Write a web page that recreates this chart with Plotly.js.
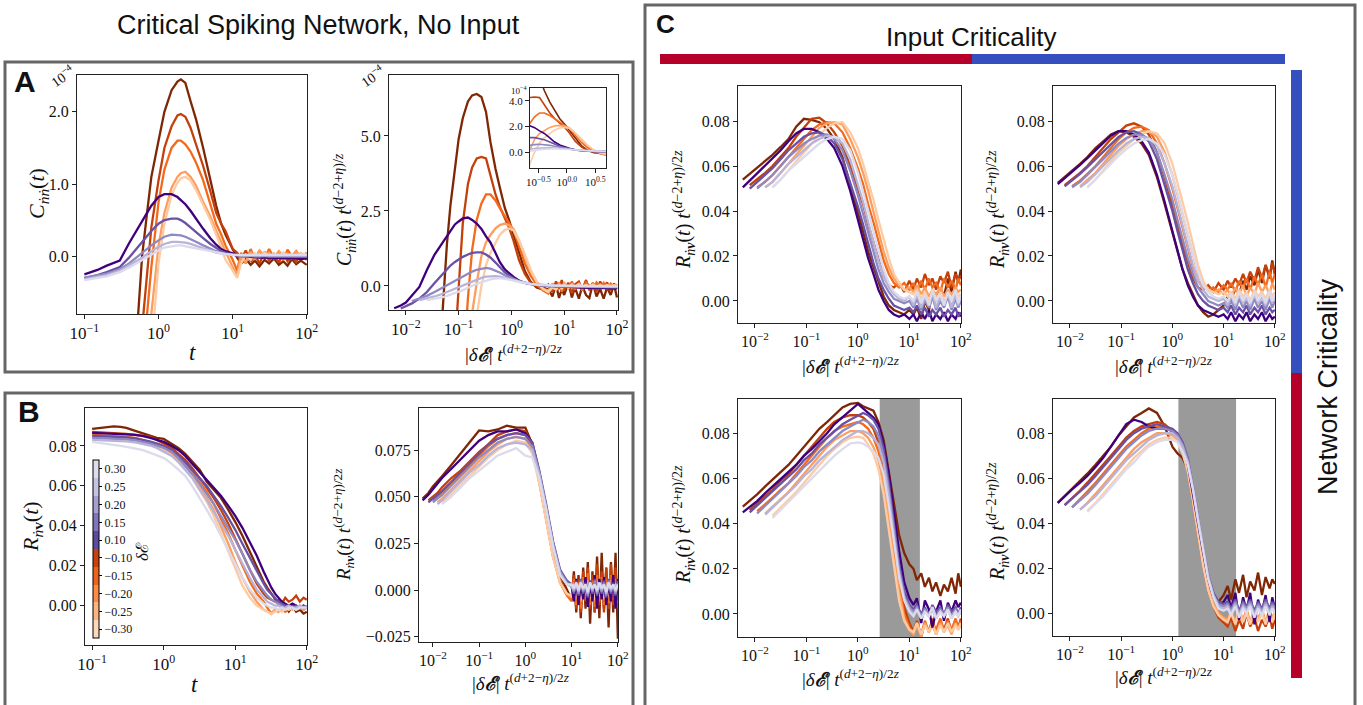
<!DOCTYPE html>
<html><head><meta charset="utf-8">
<script src="https://cdn.plot.ly/plotly-3.0.1.min.js"></script>
<style>html,body{margin:0;padding:0;background:#fff}#chart{width:1363px;height:705px}</style>
</head><body><div id="chart"></div>
<script>
// ---------------- DATA ----------------
// series order everywhere: dE = -0.10, -0.15, -0.20, -0.25, -0.30, +0.10, +0.15, +0.20, +0.25, +0.30
const seriesLabels = ['−0.10','−0.15','−0.20','−0.25','−0.30','0.10','0.15','0.20','0.25','0.30'];

// Panel A left: C(t), units of 1e-4
const tA = [0.1,0.15,0.2,0.3,0.4,0.5,0.6,0.7,0.8,1.0,1.2,1.5,1.8,2.0,2.3,2.7,3.2,4,5,6,7,8,10,11.5,13,15,17.5,20,23,27,31,36,42,48,55,63,72,83,100];
const AL_o10 = [-9,-8,-7,-5,-3.5,-1.2,0.0,0.6,1.1,1.6, 2.0,2.3,2.42,2.45,2.4,2.15,1.9,1.5,1.05,0.7, 0.45,0.3,0.1, -0.02,-0.1,-0.04,-0.12,-0.06,-0.14,-0.05,-0.1,-0.03,-0.12, -0.07,-0.13,-0.04,-0.11,-0.06,-0.12];
const AL_o15 = [-9,-8,-7,-6,-4.5,-3,-1.0,-0.2,0.4,1.05, 1.5,1.8,1.95,1.97,1.93,1.78,1.55,1.25,0.9,0.6, 0.45,0.35,0.1, 0.05,-0.05,0.08,-0.08,0.02,-0.1,0.06,-0.06,0.03,-0.09, 0.05,-0.07,0.0,-0.08,0.04,-0.05];
const AL_o20 = [-9,-8,-7,-6,-5,-4,-2.5,-0.8,-0.15,0.75, 1.2,1.5,1.6,1.6,1.55,1.45,1.3,1.05,0.7,0.45, 0.3,0.15,-0.05, -0.2,0.05,-0.1,0.1,-0.05,0.08,-0.03,0.1,-0.02,0.06, -0.06,0.09,0.0,0.07,-0.03,0.05];
const AL_o25 = [-9,-8,-7,-6,-5.5,-5,-3.5,-2,-0.8,0.15, 0.6,0.95,1.1,1.15,1.17,1.1,0.98,0.75,0.55,0.35, 0.2,0.05,-0.15, -0.25,0.0,-0.08,0.06,-0.04,0.08,0.0,0.05,-0.02,0.07, 0.0,0.04,-0.03,0.06,0.01,0.04];
const AL_o30 = [-9,-8,-7,-6.5,-6,-6,-4.5,-3,-1.3,-0.1, 0.45,0.85,1.02,1.08,1.1,1.05,0.92,0.72,0.5,0.3, 0.12,-0.05,-0.2, -0.3,-0.1,0.02,-0.05,0.04,-0.02,0.05,0.0,0.03,-0.02, 0.05,0.01,0.03,-0.01,0.04,0.02];
const AL_p10 = [-0.25,-0.19,-0.13,-0.06,0.18,0.34,0.48,0.6,0.7,0.82, 0.86,0.86,0.82,0.78,0.72,0.63,0.52,0.38,0.25,0.16, 0.1,0.07,0.04, 0.02,0.01,0.0,-0.01,-0.01,-0.02,-0.02,-0.02,-0.03,-0.02, -0.03,-0.03,-0.03,-0.03,-0.04,-0.03];
const AL_p15 = [-0.3,-0.26,-0.22,-0.15,-0.02,0.1,0.2,0.28,0.35,0.45, 0.5,0.52,0.52,0.5,0.46,0.4,0.33,0.25,0.17,0.11, 0.07,0.05,0.02, 0.01,0.0,0.0,-0.01,0.0,-0.01,-0.01,0.0,-0.01,-0.01, 0.0,-0.01,-0.01,0.0,-0.01,-0.01];
const AL_p20 = [-0.3,-0.27,-0.24,-0.18,-0.1,-0.02,0.05,0.1,0.15,0.22, 0.27,0.3,0.3,0.29,0.27,0.24,0.2,0.15,0.1,0.07, 0.05,0.03,0.02, 0.01,0.01,0.0,0.01,0.0,0.0,0.01,0.0,0.0,0.01, 0.0,0.0,0.01,0.0,0.0,0.0];
const AL_p25 = [-0.32,-0.29,-0.26,-0.2,-0.13,-0.07,-0.02,0.03,0.07,0.13, 0.17,0.2,0.2,0.2,0.19,0.17,0.14,0.11,0.08,0.05, 0.04,0.03,0.02, 0.02,0.01,0.01,0.01,0.02,0.01,0.01,0.02,0.01,0.01, 0.02,0.01,0.01,0.02,0.01,0.01];
const AL_p30 = [-0.33,-0.3,-0.28,-0.22,-0.16,-0.1,-0.05,-0.01,0.03,0.08, 0.12,0.14,0.15,0.15,0.14,0.13,0.11,0.09,0.07,0.05, 0.04,0.03,0.02, 0.02,0.02,0.02,0.02,0.02,0.02,0.02,0.02,0.02,0.02, 0.02,0.02,0.02,0.02,0.02,0.02];

// Panel A right (and inset): scaled C, units of 1e-4
const gAR = [0.006,0.008,0.01,0.013,0.018,0.025,0.035,0.05,0.06,0.07, 0.085,0.1,0.12,0.15,0.18,0.22,0.27,0.33,0.4,0.5, 0.6,0.75,0.9,1.1,1.4,1.8,2.3,3,4, 5,6,7,8,9,10,12,14,16,19, 22,26,30,35,41,48,56,65,76,88, 100];
const AR_o10 = [null,null,null,null,null,null,-5,-0.6,1.4,2.7, 3.9,4.9,5.6,6.15,6.35,6.4,6.3,5.8,4.8,3.9, 3.3,2.6,2.2,1.7,1.1,0.5,0.15,-0.05,-0.12, -0.1,-0.35,0.05,-0.4,-0.1,-0.3,0.1,-0.38,-0.05,-0.42, 0.0,-0.3,-0.4,0.1,-0.35,-0.1,-0.42,-0.05,-0.3,0.05, -0.38];
const AR_o15 = [null,null,null,null,null,null,null,null,null,null, -2,0.1,2.1,3.4,3.95,4.25,4.3,4.25,3.7,3.05, 2.65,2.25,1.95,1.5,0.85,0.4,0.12,0.0,-0.08, 0.05,-0.2,0.15,-0.1,0.2,-0.15,0.1,-0.25,0.05,0.15, -0.12,0.2,-0.15,0.1,-0.2,0.15,-0.08,0.12,-0.15,0.08, -0.1];
const AR_o20 = [null,null,null,null,null,null,null,null,null,null, null,null,-3,-0.4,1.2,2.2,2.75,3.05,3.05,2.85, 2.6,2.3,2.1,1.85,1.3,0.75,0.35,0.05,-0.15, -0.25,0.08,-0.15,0.12,-0.2,0.1,-0.05,0.15,-0.12,0.05, -0.15,0.12,0.0,-0.1,0.12,-0.06,0.1,-0.12,0.08,-0.05, 0.06];
const AR_o25 = [null,null,null,null,null,null,null,null,null,null, null,null,null,-3,-0.9,0.1,1.0,1.45,1.7,1.92, 2.03,2.08,2.02,1.9,1.5,1.0,0.5,0.15,-0.1, -0.15,0.05,-0.1,0.08,-0.05,0.1,-0.08,0.06,-0.02,0.08, -0.06,0.04,-0.03,0.06,-0.04,0.05,-0.02,0.04,-0.03,0.03, 0.0];
const AR_o30 = [null,null,null,null,null,null,null,null,null,null, null,null,null,null,-3,-1.0,0.0,0.7,1.1,1.45, 1.7,1.87,1.92,1.85,1.5,1.05,0.55,0.15,-0.1, -0.2,-0.05,-0.12,0.02,-0.08,0.04,-0.05,0.03,-0.04,0.05, -0.02,0.03,-0.03,0.04,-0.01,0.02,-0.02,0.03,0.0,0.02, 0.01];
const AR_p10 = [-0.74,-0.65,-0.55,-0.33,-0.03,0.53,1.05,1.45,1.65,1.85, 2.05,2.15,2.25,2.28,2.2,2.08,1.9,1.65,1.45,1.1, 0.8,0.55,0.42,0.3,0.18,0.1,0.07,0.04,0.02, 0.0,0.0,-0.01,-0.02,-0.02,-0.03,-0.03,-0.04,-0.04,-0.05, -0.05,-0.06,-0.06,-0.06,-0.07,-0.07,-0.07,-0.08,-0.08,-0.08, -0.08];
const AR_p15 = [null,-0.75,-0.68,-0.58,-0.42,-0.2,0.1,0.4,0.55,0.68, 0.8,0.88,0.97,1.05,1.1,1.12,1.12,1.05,0.95,0.78, 0.62,0.45,0.35,0.25,0.16,0.1,0.06,0.04,0.02, 0.01,0.0,0.0,-0.01,-0.01,-0.02,-0.02,-0.02,-0.03,-0.03, -0.03,-0.03,-0.04,-0.04,-0.04,-0.04,-0.04,-0.05,-0.05,-0.05, -0.05];
const AR_p20 = [null,null,null,-0.5,-0.42,-0.33,-0.2,-0.05,0.03,0.1, 0.17,0.23,0.3,0.4,0.48,0.54,0.58,0.6,0.58,0.52, 0.45,0.36,0.3,0.22,0.15,0.1,0.07,0.04,0.02, 0.01,0.01,0.0,0.0,0.0,-0.01,-0.01,-0.01,-0.01,-0.02, -0.02,-0.02,-0.02,-0.02,-0.02,-0.03,-0.03,-0.03,-0.03,-0.03, -0.03];
const AR_p25 = [null,null,null,null,-0.47,-0.42,-0.35,-0.26,-0.2,-0.15, -0.09,-0.04,0.02,0.1,0.16,0.22,0.27,0.31,0.33,0.33, 0.31,0.27,0.24,0.19,0.14,0.1,0.07,0.05,0.03, 0.02,0.01,0.01,0.0,0.0,0.0,-0.01,0.0,-0.01,-0.01, -0.01,-0.01,-0.02,-0.01,-0.02,-0.02,-0.02,-0.02,-0.02,-0.02, -0.02];
const AR_p30 = [null,null,null,null,null,-0.47,-0.43,-0.37,-0.33,-0.29, -0.24,-0.2,-0.14,-0.06,0.01,0.07,0.13,0.18,0.22,0.25, 0.26,0.24,0.22,0.18,0.14,0.1,0.07,0.05,0.03, 0.02,0.02,0.01,0.01,0.01,0.0,0.0,0.0,0.0,-0.01, 0.0,-0.01,-0.01,-0.01,-0.01,-0.01,-0.01,-0.01,-0.01,-0.01, -0.01];

// Panel B left: R(t)
const tB = [0.1,0.13,0.17,0.2,0.25,0.3,0.4,0.5,0.65,0.8, 1.0,1.3,1.6,2.0,2.5,3.2,4,5,6.3,8, 10,12.6,16,20,25,28,32,36,40,45, 50,56,63,71,80,90,100];
const BL_o10 = [0.0885,0.089,0.0895,0.0898,0.0895,0.089,0.0875,0.0865,0.085,0.084, 0.0835,0.081,0.079,0.076,0.072,0.068,0.062,0.058,0.054,0.048, 0.042,0.035,0.027,0.019,0.012,0.009,0.006,0.003,0.001,0.002, -0.001,-0.003,0.0,-0.003,-0.002,-0.004,-0.003];
const BL_o15 = [0.087,0.0868,0.0866,0.0865,0.0862,0.086,0.0855,0.085,0.0845,0.083, 0.081,0.079,0.076,0.073,0.069,0.064,0.059,0.054,0.048,0.041, 0.034,0.026,0.018,0.011,0.006,0.004,0.003,0.002,0.003,0.001, 0.004,0.002,0.003,0.005,0.002,0.004,0.003];
const BL_o20 = [0.0855,0.0853,0.0851,0.085,0.0848,0.0845,0.084,0.0832,0.0822,0.0812, 0.08,0.077,0.074,0.071,0.067,0.062,0.057,0.051,0.044,0.036, 0.028,0.02,0.012,0.006,0.002,-0.001,-0.004,-0.002,-0.003,-0.001, -0.003,-0.002,0.0,-0.002,-0.001,-0.002,0.0];
const BL_o25 = [0.0845,0.0843,0.0841,0.084,0.0838,0.0835,0.083,0.0822,0.0812,0.0802, 0.079,0.076,0.073,0.07,0.066,0.06,0.054,0.048,0.04,0.031, 0.022,0.014,0.007,0.002,-0.002,-0.003,-0.004,-0.002,-0.003,-0.001, -0.002,-0.001,-0.002,0.0,-0.001,-0.002,-0.001];
const BL_o30 = [0.084,0.0838,0.0836,0.0835,0.0832,0.083,0.0825,0.0817,0.0807,0.0797, 0.078,0.075,0.072,0.069,0.064,0.058,0.052,0.045,0.036,0.027, 0.018,0.01,0.004,0.0,-0.002,-0.003,-0.004,-0.003,-0.002,-0.003, -0.001,-0.002,-0.001,-0.002,-0.001,0.0,-0.001];
const BL_p10 = [0.0865,0.0864,0.0863,0.0862,0.086,0.0858,0.0855,0.085,0.084,0.083, 0.082,0.08,0.078,0.075,0.071,0.067,0.063,0.059,0.055,0.05, 0.045,0.039,0.032,0.025,0.017,0.013,0.009,0.006,0.004,0.002, 0.001,0.0,0.001,0.0,-0.001,0.0,-0.001];
const BL_p15 = [0.085,0.0849,0.0848,0.0847,0.0845,0.0843,0.0838,0.0832,0.0822,0.0812, 0.08,0.078,0.075,0.072,0.068,0.064,0.06,0.055,0.05,0.044, 0.038,0.031,0.024,0.017,0.011,0.008,0.006,0.004,0.002,0.001, 0.0,0.0,-0.001,0.0,-0.001,0.0,-0.001];
const BL_p20 = [0.084,0.0839,0.0838,0.0837,0.0835,0.0833,0.0828,0.0822,0.0812,0.0802, 0.079,0.077,0.074,0.07,0.066,0.061,0.056,0.051,0.045,0.039, 0.033,0.026,0.018,0.012,0.007,0.005,0.003,0.002,0.001,0.0, -0.001,0.0,-0.001,-0.001,0.0,-0.001,0.0];
const BL_p25 = [0.083,0.0829,0.0828,0.0827,0.0825,0.0823,0.0818,0.0812,0.0802,0.079, 0.077,0.075,0.072,0.068,0.064,0.058,0.053,0.047,0.041,0.035, 0.028,0.021,0.014,0.008,0.004,0.002,0.001,0.0,0.0,-0.001, -0.001,0.0,-0.001,-0.001,0.0,-0.001,-0.001];
const BL_p30 = [0.082,0.0815,0.081,0.0805,0.08,0.0795,0.0788,0.078,0.0765,0.0752, 0.074,0.071,0.068,0.065,0.06,0.054,0.048,0.042,0.035,0.028, 0.021,0.014,0.008,0.004,0.001,0.0,-0.001,-0.001,-0.002,-0.001, -0.002,-0.001,-0.001,-0.002,-0.001,-0.001,-0.001];

// Panel B right: scaled R
const gBR = [0.006,0.008,0.01,0.0126,0.0158,0.0251,0.0398,0.0631,0.1,0.158, 0.251,0.398,0.631,1.0,1.41,2.0,2.82,3.98,5.62,7.94, 10,11.2,12.6,14.1,15.8,17.8,20,22.4,25.1,28.2, 31.6,35.5,39.8,44.7,50.1,56.2,63.1,70.8,79.4,89.1, 100];
const BR_o10 = [0.049,0.052,0.0555,0.058,0.061,0.067,0.073,0.079,0.0855,0.085, 0.086,0.088,0.087,0.087,0.078,0.06,0.042,0.022,0.008,0.0, -0.005,0.01,-0.012,0.008,-0.015,0.012,-0.01,0.015,-0.018,0.01, -0.012,0.018,-0.015,0.02,-0.01,0.012,-0.02,0.015,-0.012,0.02, -0.026];
const BR_o15 = [null,0.048,0.05,0.052,0.055,0.06,0.064,0.069,0.074,0.078, 0.083,0.085,0.086,0.085,0.077,0.058,0.038,0.018,0.005,-0.002, -0.004,0.008,-0.01,0.006,-0.012,0.01,-0.006,0.012,-0.01,0.008, -0.012,0.014,-0.008,0.01,-0.012,0.012,-0.01,0.014,-0.008,0.012, -0.01];
const BR_o20 = [null,null,0.048,0.05,0.052,0.057,0.062,0.067,0.072,0.077, 0.081,0.083,0.084,0.083,0.076,0.058,0.038,0.018,0.004,-0.003, -0.006,0.006,-0.008,0.004,-0.01,0.007,-0.005,0.009,-0.008,0.005, -0.009,0.008,-0.006,0.007,-0.008,0.006,-0.007,0.008,-0.005,0.006, -0.007];
const BR_o25 = [null,null,null,0.047,0.049,0.054,0.059,0.064,0.069,0.074, 0.078,0.081,0.082,0.081,0.075,0.058,0.038,0.018,0.004,-0.002, -0.004,0.004,-0.005,0.003,-0.006,0.005,-0.003,0.005,-0.005,0.003, -0.006,0.005,-0.004,0.004,-0.005,0.004,-0.004,0.005,-0.003,0.004, -0.004];
const BR_o30 = [null,null,null,null,0.047,0.051,0.056,0.061,0.066,0.071, 0.075,0.078,0.08,0.079,0.073,0.057,0.037,0.017,0.004,-0.002, -0.003,0.003,-0.004,0.002,-0.005,0.004,-0.002,0.004,-0.004,0.002, -0.005,0.004,-0.003,0.003,-0.004,0.003,-0.003,0.004,-0.002,0.003, -0.003];
const BR_p10 = [0.048,0.051,0.054,0.057,0.06,0.065,0.07,0.075,0.08,0.083, 0.085,0.085,0.086,0.084,0.079,0.063,0.045,0.025,0.01,0.004, 0.002,-0.006,0.006,-0.008,0.004,-0.005,0.007,-0.009,0.005,-0.006, 0.008,-0.01,0.006,-0.005,0.007,-0.008,0.005,-0.006,0.008,-0.01, 0.006];
const BR_p15 = [null,0.047,0.049,0.051,0.053,0.058,0.063,0.068,0.073,0.078, 0.081,0.083,0.084,0.083,0.079,0.064,0.046,0.026,0.011,0.005, 0.003,-0.002,0.005,-0.003,0.006,-0.002,0.004,-0.004,0.005,-0.002, 0.006,-0.003,0.004,-0.002,0.005,-0.004,0.006,-0.002,0.004,-0.003, 0.005];
const BR_p20 = [null,null,0.047,0.049,0.051,0.056,0.061,0.066,0.071,0.075, 0.079,0.081,0.082,0.081,0.077,0.063,0.045,0.025,0.01,0.004, 0.002,-0.001,0.004,-0.002,0.005,-0.001,0.003,-0.003,0.004,-0.001, 0.005,-0.002,0.003,-0.001,0.004,-0.003,0.005,-0.001,0.003,-0.002, 0.004];
const BR_p25 = [null,null,null,0.046,0.048,0.053,0.058,0.063,0.067,0.072, 0.076,0.078,0.079,0.078,0.075,0.062,0.044,0.024,0.009,0.003, 0.002,0.0,0.003,-0.001,0.004,0.0,0.003,-0.002,0.004,0.0, 0.003,-0.001,0.004,0.0,0.003,-0.002,0.004,0.0,0.003,-0.001, 0.003];
const BR_p30 = [null,null,null,null,0.046,0.05,0.055,0.06,0.064,0.068, 0.072,0.074,0.076,0.072,0.071,0.06,0.043,0.023,0.008,0.003, 0.003,0.001,0.004,0.0,0.004,0.001,0.003,-0.001,0.004,0.001, 0.003,0.0,0.004,0.001,0.003,-0.001,0.004,0.001,0.003,0.0, 0.003];

// Panel C: shared x grid
const gC = [0.0058,0.0079,0.011,0.0158,0.0219,0.0316,0.0447,0.0631,0.0891,0.126, 0.178,0.251,0.347,0.501,0.708,1.0,1.26,1.58,2.0,2.51, 3.16,3.98,5.01,6.31,7.94,10, 12,14,17,20,24,28,33,40,47,56, 66,79,89,100];
// C top-left
const CTL_o10 = [0.054,0.0565,0.059,0.062,0.065,0.0685,0.072,0.0775,0.081,0.0805, 0.0795,0.0765,0.072,0.064,0.052,0.039,0.031,0.022,0.015,0.008, 0.002,-0.002,-0.004,-0.005,-0.006,-0.004, -0.006,-0.003,-0.008,0.0,-0.004,0.004,0.0,0.006,0.002,0.01, 0.004,0.013,0.008,0.014];
const CTL_o15 = [null,0.0515,0.054,0.057,0.06,0.064,0.068,0.073,0.077,0.081, 0.0815,0.079,0.075,0.069,0.06,0.05,0.043,0.034,0.026,0.018, 0.011,0.007,0.006,0.008,0.004,0.009, 0.005,0.01,0.006,0.012,0.007,0.01,0.005,0.011,0.008,0.013, 0.006,0.012,0.009,0.011];
const CTL_o20 = [null,null,0.0505,0.053,0.056,0.06,0.064,0.068,0.072,0.076, 0.0785,0.0795,0.079,0.075,0.068,0.059,0.052,0.043,0.035,0.026, 0.018,0.012,0.008,0.006,0.008,0.005, 0.008,0.004,0.009,0.005,0.01,0.006,0.008,0.004,0.01,0.006, 0.009,0.005,0.01,0.007];
const CTL_o25 = [null,null,null,0.0505,0.053,0.057,0.061,0.065,0.069,0.073, 0.077,0.079,0.0795,0.0785,0.072,0.064,0.057,0.049,0.04,0.031, 0.022,0.015,0.01,0.007,0.005,0.006, 0.004,0.007,0.003,0.006,0.002,0.005,0.003,0.006,0.002,0.005, 0.003,0.006,0.004,0.005];
const CTL_o30 = [null,null,null,null,0.0505,0.054,0.058,0.062,0.066,0.07, 0.074,0.077,0.079,0.0795,0.075,0.068,0.061,0.053,0.045,0.036, 0.027,0.019,0.012,0.008,0.005,0.004, 0.003,0.005,0.001,0.004,0.0,0.003,0.001,0.004,0.0,0.003, 0.001,0.004,0.002,0.003];
const CTL_p10 = [0.0505,0.0535,0.0565,0.06,0.063,0.067,0.071,0.0745,0.0765,0.0765, 0.075,0.072,0.068,0.06,0.049,0.036,0.028,0.019,0.012,0.005, 0.0,-0.004,-0.006,-0.007,-0.006,-0.008, -0.006,-0.009,-0.005,-0.008,-0.004,-0.009,-0.006,-0.008,-0.005,-0.009, -0.006,-0.008,-0.005,-0.007];
const CTL_p15 = [null,0.05,0.053,0.056,0.059,0.063,0.067,0.07,0.073,0.0745, 0.075,0.0735,0.07,0.063,0.053,0.042,0.034,0.025,0.017,0.01, 0.005,0.001,-0.002,-0.003,-0.004,-0.003, -0.005,-0.002,-0.006,-0.003,-0.007,-0.004,-0.006,-0.003,-0.007,-0.004, -0.006,-0.003,-0.007,-0.005];
const CTL_p20 = [null,null,0.05,0.053,0.056,0.06,0.064,0.067,0.07,0.072, 0.0735,0.074,0.072,0.067,0.058,0.047,0.039,0.03,0.022,0.014, 0.008,0.004,0.001,0.0,-0.001,0.0, -0.003,0.001,-0.004,0.0,-0.003,0.002,-0.004,0.0,-0.003,0.002, -0.004,0.001,-0.003,0.0];
const CTL_p25 = [null,null,null,0.0505,0.053,0.057,0.061,0.064,0.067,0.07, 0.072,0.0735,0.073,0.07,0.063,0.052,0.044,0.035,0.026,0.018, 0.011,0.006,0.003,0.001,0.0,0.002, -0.002,0.003,-0.003,0.002,-0.002,0.004,-0.003,0.002,-0.002,0.004, -0.003,0.003,-0.002,0.003];
const CTL_p30 = [null,null,null,null,0.0505,0.054,0.058,0.061,0.064,0.067, 0.07,0.072,0.073,0.072,0.067,0.057,0.049,0.04,0.031,0.022, 0.014,0.008,0.004,0.002,0.001,0.002, 0.0,0.004,-0.001,0.003,-0.002,0.005,0.0,0.003,-0.002,0.004, 0.0,0.005,-0.001,0.003];
// C top-right
const CTR_o10 = [0.0525,0.055,0.058,0.061,0.064,0.068,0.071,0.074,0.0755,0.075, 0.073,0.07,0.065,0.055,0.043,0.03,0.022,0.014,0.008,0.003, -0.002,-0.005,-0.007,-0.006,-0.004,-0.002, 0.002,0.0,0.006,0.003,0.009,0.005,0.011,0.007,0.014,0.008, 0.016,0.01,0.018,0.012];
const CTR_o15 = [null,0.0515,0.054,0.057,0.06,0.064,0.068,0.072,0.075,0.078, 0.079,0.0775,0.074,0.066,0.055,0.043,0.034,0.025,0.017,0.01, 0.006,0.005,0.007,0.004,0.008,0.005, 0.009,0.006,0.01,0.007,0.012,0.008,0.013,0.009,0.015,0.01, 0.016,0.011,0.017,0.012];
const CTR_o20 = [null,null,0.051,0.0535,0.0565,0.06,0.064,0.068,0.072,0.075, 0.077,0.0775,0.076,0.07,0.061,0.05,0.041,0.032,0.023,0.015, 0.009,0.006,0.005,0.006,0.004,0.007, 0.005,0.008,0.004,0.009,0.006,0.01,0.005,0.011,0.007,0.012, 0.006,0.013,0.008,0.012];
const CTR_o25 = [null,null,null,0.051,0.054,0.057,0.061,0.065,0.069,0.072, 0.074,0.0755,0.0755,0.073,0.066,0.056,0.047,0.038,0.029,0.02, 0.012,0.007,0.005,0.004,0.005,0.003, 0.005,0.002,0.006,0.003,0.007,0.002,0.006,0.003,0.008,0.004, 0.007,0.003,0.008,0.005];
const CTR_o30 = [null,null,null,null,0.0505,0.054,0.058,0.062,0.066,0.069, 0.072,0.074,0.0755,0.0745,0.07,0.061,0.053,0.044,0.035,0.025, 0.016,0.009,0.005,0.004,0.003,0.004, 0.002,0.004,0.001,0.005,0.002,0.004,0.0,0.005,0.002,0.004, 0.001,0.005,0.002,0.004];
const CTR_p10 = [0.052,0.0545,0.0575,0.0605,0.0635,0.067,0.0705,0.0735,0.0755,0.0755, 0.074,0.071,0.066,0.056,0.044,0.031,0.022,0.014,0.007,0.002, -0.002,-0.004,-0.005,-0.006,-0.007,-0.006, -0.008,-0.005,-0.009,-0.006,-0.008,-0.005,-0.009,-0.006,-0.008,-0.005, -0.009,-0.006,-0.008,-0.007];
const CTR_p15 = [null,0.051,0.0535,0.0565,0.0595,0.063,0.0665,0.07,0.073,0.075, 0.0755,0.074,0.071,0.063,0.052,0.04,0.031,0.022,0.014,0.008, 0.003,0.0,-0.002,-0.003,-0.004,-0.003, -0.005,-0.002,-0.006,-0.003,-0.005,-0.002,-0.006,-0.003,-0.005,-0.002, -0.006,-0.003,-0.005,-0.004];
const CTR_p20 = [null,null,0.0505,0.053,0.056,0.0595,0.063,0.0665,0.07,0.0725, 0.074,0.074,0.072,0.066,0.056,0.045,0.036,0.027,0.019,0.012, 0.006,0.003,0.0,-0.001,-0.002,-0.001, -0.003,0.0,-0.004,0.001,-0.003,0.0,-0.004,0.001,-0.003,0.0, -0.004,0.001,-0.003,0.0];
const CTR_p25 = [null,null,null,0.0505,0.053,0.0565,0.06,0.0635,0.067,0.07, 0.072,0.073,0.0725,0.069,0.061,0.051,0.042,0.033,0.024,0.016, 0.009,0.005,0.002,0.001,0.0,0.001, -0.002,0.002,-0.002,0.003,-0.001,0.002,-0.002,0.003,-0.001,0.002, -0.002,0.003,-0.001,0.002];
const CTR_p30 = [null,null,null,null,0.0505,0.054,0.0575,0.061,0.0645,0.0675, 0.07,0.0715,0.072,0.07,0.065,0.056,0.048,0.039,0.03,0.021, 0.013,0.007,0.004,0.002,0.001,0.002, 0.0,0.003,-0.001,0.004,0.0,0.003,-0.001,0.004,0.0,0.003, -0.001,0.004,0.0,0.003];
// C bottom-left
const CBL_o10 = [0.0475,0.05,0.053,0.0565,0.0595,0.063,0.066,0.07,0.074,0.078, 0.082,0.085,0.088,0.0915,0.093,0.0935,0.092,0.091,0.09,0.085, 0.077,0.063,0.048,0.035,0.027,0.022, 0.02,0.015,0.018,0.012,0.016,0.01,0.014,0.008,0.013,0.01, 0.016,0.009,0.018,0.012];
const CBL_o15 = [null,0.046,0.049,0.052,0.055,0.059,0.062,0.066,0.07,0.074, 0.078,0.082,0.085,0.087,0.088,0.088,0.087,0.085,0.082,0.076, 0.066,0.05,0.032,0.015,0.003,-0.004, -0.008,-0.003,-0.01,-0.004,-0.008,-0.002,-0.009,-0.003,-0.007,-0.002, -0.008,-0.003,-0.006,-0.002];
const CBL_o20 = [null,null,0.0455,0.0485,0.0515,0.055,0.058,0.062,0.066,0.07, 0.074,0.078,0.081,0.083,0.084,0.085,0.084,0.082,0.078,0.072, 0.062,0.046,0.028,0.012,0.0,-0.006, -0.008,-0.004,-0.009,-0.003,-0.008,-0.004,-0.007,-0.002,-0.008,-0.003, -0.007,-0.002,-0.006,-0.003];
const CBL_o25 = [null,null,null,0.0445,0.0475,0.051,0.054,0.058,0.062,0.066, 0.07,0.074,0.077,0.079,0.081,0.081,0.08,0.078,0.074,0.068, 0.058,0.042,0.024,0.01,-0.002,-0.007, -0.009,-0.005,-0.01,-0.004,-0.008,-0.005,-0.009,-0.004,-0.008,-0.005, -0.009,-0.004,-0.007,-0.005];
const CBL_o30 = [null,null,null,null,0.0435,0.047,0.0505,0.054,0.058,0.062, 0.066,0.07,0.073,0.076,0.078,0.0785,0.078,0.075,0.071,0.064, 0.053,0.037,0.02,0.006,-0.003,-0.007, -0.008,-0.004,-0.009,-0.005,-0.008,-0.004,-0.009,-0.005,-0.008,-0.004, -0.008,-0.005,-0.007,-0.004];
const CBL_p10 = [0.045,0.0475,0.05,0.0535,0.0565,0.06,0.063,0.066,0.07,0.073, 0.0765,0.08,0.084,0.087,0.09,0.093,0.091,0.089,0.087,0.084, 0.075,0.062,0.045,0.028,0.014,0.007, 0.004,0.007,-0.004,0.006,0.002,-0.006,0.001,0.006,-0.003,0.005, 0.001,0.006,0.003,0.005];
const CBL_p15 = [null,0.045,0.048,0.0515,0.0545,0.058,0.061,0.064,0.068,0.071, 0.075,0.078,0.081,0.084,0.086,0.088,0.089,0.088,0.086,0.082, 0.073,0.058,0.04,0.022,0.01,0.004, 0.002,0.004,0.0,0.003,-0.001,0.004,0.001,0.003,0.0,0.004, 0.001,0.003,0.0,0.003];
const CBL_p20 = [null,null,0.0445,0.048,0.051,0.0545,0.058,0.061,0.065,0.068, 0.072,0.075,0.078,0.081,0.083,0.085,0.086,0.085,0.083,0.079, 0.07,0.055,0.037,0.02,0.008,0.003, 0.001,0.003,-0.001,0.002,0.0,0.003,-0.001,0.002,0.0,0.003, -0.001,0.002,0.0,0.002];
const CBL_p25 = [null,null,null,0.044,0.047,0.0505,0.054,0.057,0.061,0.064, 0.068,0.071,0.074,0.077,0.079,0.081,0.081,0.08,0.078,0.075, 0.067,0.052,0.034,0.018,0.007,0.002, 0.0,0.002,-0.002,0.001,-0.001,0.002,-0.002,0.001,-0.001,0.002, -0.002,0.001,-0.001,0.001];
const CBL_p30 = [null,null,null,null,0.0425,0.046,0.0495,0.053,0.0565,0.06, 0.0635,0.067,0.07,0.073,0.0755,0.076,0.0755,0.074,0.072,0.069, 0.062,0.048,0.031,0.016,0.006,0.001, -0.001,0.002,-0.002,0.001,-0.001,0.003,-0.002,0.001,-0.001,0.002, -0.002,0.001,-0.001,0.002];
// C bottom-right
const CBR_o10 = [0.049,0.052,0.0555,0.059,0.062,0.066,0.07,0.074,0.079,0.083, 0.087,0.089,0.091,0.089,0.083,0.074,0.071,0.069,0.064,0.05, 0.036,0.024,0.014,0.007,0.005,0.008, 0.012,0.006,0.015,0.009,0.017,0.007,0.014,0.01,0.018,0.008, 0.016,0.011,0.015,0.013];
const CBR_o15 = [null,0.048,0.051,0.0545,0.058,0.062,0.066,0.07,0.074,0.078, 0.081,0.083,0.084,0.085,0.084,0.081,0.078,0.073,0.064,0.05, 0.035,0.021,0.01,0.003,-0.002,-0.004, -0.006,-0.002,-0.008,-0.003,-0.007,0.0,-0.006,-0.002,-0.008,-0.003, -0.006,-0.001,-0.007,-0.003];
const CBR_o20 = [null,null,0.047,0.0505,0.054,0.058,0.062,0.066,0.07,0.074, 0.077,0.08,0.082,0.083,0.083,0.081,0.078,0.073,0.064,0.051, 0.036,0.022,0.011,0.004,0.0,-0.002, -0.004,0.0,-0.005,0.001,-0.004,0.002,-0.005,0.0,-0.003,0.002, -0.005,0.001,-0.004,0.0];
const CBR_o25 = [null,null,null,0.046,0.049,0.053,0.057,0.061,0.065,0.069, 0.073,0.076,0.078,0.08,0.08,0.079,0.077,0.072,0.064,0.051, 0.036,0.022,0.011,0.004,0.0,-0.002, -0.003,0.001,-0.004,0.002,-0.003,0.001,-0.004,0.002,-0.003,0.001, -0.004,0.002,-0.003,0.001];
const CBR_o30 = [null,null,null,null,0.0455,0.049,0.053,0.057,0.061,0.065, 0.069,0.072,0.075,0.077,0.078,0.078,0.076,0.071,0.063,0.05, 0.035,0.021,0.01,0.003,-0.001,-0.003, -0.004,0.0,-0.005,0.001,-0.004,0.0,-0.005,0.001,-0.004,0.0, -0.005,0.001,-0.004,0.0];
const CBR_p10 = [0.049,0.052,0.055,0.058,0.061,0.065,0.069,0.074,0.079,0.084, 0.086,0.085,0.083,0.082,0.082,0.081,0.079,0.074,0.066,0.054, 0.04,0.027,0.015,0.007,0.004,0.005, 0.008,0.002,0.009,-0.003,0.007,0.001,0.009,-0.005,0.006,0.0, 0.008,-0.004,0.007,0.002];
const CBR_p15 = [null,0.048,0.051,0.054,0.057,0.061,0.065,0.069,0.073,0.077, 0.08,0.082,0.083,0.084,0.083,0.082,0.08,0.076,0.069,0.057, 0.043,0.029,0.017,0.009,0.005,0.004, 0.005,0.002,0.006,0.001,0.005,0.003,0.006,0.001,0.005,0.002, 0.006,0.002,0.005,0.003];
const CBR_p20 = [null,null,0.047,0.05,0.053,0.057,0.061,0.065,0.069,0.073, 0.076,0.079,0.081,0.082,0.082,0.081,0.079,0.075,0.068,0.057, 0.043,0.029,0.017,0.008,0.004,0.003, 0.004,0.001,0.005,0.0,0.004,0.002,0.005,0.0,0.004,0.001, 0.005,0.001,0.004,0.002];
const CBR_p25 = [null,null,null,0.046,0.049,0.052,0.056,0.06,0.064,0.068, 0.071,0.074,0.077,0.079,0.08,0.08,0.078,0.074,0.067,0.056, 0.042,0.028,0.016,0.008,0.003,0.002, 0.003,0.0,0.004,-0.001,0.003,0.001,0.004,-0.001,0.003,0.0, 0.004,0.0,0.003,0.001];
const CBR_p30 = [null,null,null,null,0.045,0.0485,0.052,0.056,0.06,0.064, 0.067,0.071,0.074,0.076,0.077,0.077,0.076,0.072,0.066,0.055, 0.041,0.027,0.015,0.007,0.002,0.001, 0.002,-0.001,0.003,-0.002,0.002,0.0,0.003,-0.002,0.002,-0.001, 0.003,-0.001,0.002,0.0];

// shaded windows (x-extent, data units)
const bandCBL = [2.65, 16];
const bandCBR = [1.31, 17.5];

// ticks
const ticksT = [0.1,1,10,100];
const labelsT = ['10<sup>−1</sup>','10<sup>0</sup>','10<sup>1</sup>','10<sup>2</sup>'];
const ticksS = [0.01,0.1,1,10,100];
const labelsS = ['10<sup>−2</sup>','10<sup>−1</sup>','10<sup>0</sup>','10<sup>1</sup>','10<sup>2</sup>'];
const ticksIn = [0.316,1,3.16];
const labelsIn = ['10<sup>−0.5</sup>','10<sup>0.0</sup>','10<sup>0.5</sup>'];
const yAL = [0,1,2], yALlab = ['0.0','1.0','2.0'];
const yAR = [0,2.5,5], yARlab = ['0.0','2.5','5.0'];
const yIn = [0,2,4], yInlab = ['0.0','2.0','4.0'];
const yBL = [0,0.02,0.04,0.06,0.08], yBLlab = ['0.00','0.02','0.04','0.06','0.08'];
const yBR = [-0.025,0,0.025,0.05,0.075], yBRlab = ['−0.025','0.000','0.025','0.050','0.075'];
const yC = [0,0.02,0.04,0.06,0.08], yClab = ['0.00','0.02','0.04','0.06','0.08'];

// colours
const lineColors = ['#7f2704','#c4400a','#f26b1d','#fd9e5e','#fdcba3','#3f007d','#6a51a3','#8f89c3','#b8b3d8','#dcdbec'];
const cbLabels = ['−0.30','−0.25','−0.20','−0.15','−0.10','0.10','0.15','0.20','0.25','0.30'];
const cbColors = ['#fdd9b9','#fdb37d','#fc8c45','#ec631a','#c8420c','#5d4a9f','#8274bb','#a5a0d0','#c5c3e2','#dedded'];
const cbTicks = [0,1,2,3,4,5,6,7,8,9];

// ---------------- BUILD ----------------
const W = 1363, H = 705;
const SERIF = 'Liberation Serif, DejaVu Serif, serif';
const SANS = 'Liberation Sans, Arial, sans-serif';
const fx = p => p / W, fy = p => 1 - p / H;

function lines(grid, list, xa, ya, w) {
  return list.map((ys, i) => ({type:'scatter', mode:'lines', x:grid, y:ys, xaxis:xa, yaxis:ya,
    line:{color:lineColors[i], width:w||2.3}, showlegend:false, hoverinfo:'skip', connectgaps:false}));
}
const traces = [].concat(
  lines(tA, [AL_o10,AL_o15,AL_o20,AL_o25,AL_o30,AL_p10,AL_p15,AL_p20,AL_p25,AL_p30], 'x', 'y'),
  lines(gAR, [AR_o10,AR_o15,AR_o20,AR_o25,AR_o30,AR_p10,AR_p15,AR_p20,AR_p25,AR_p30], 'x2', 'y2'),
  lines(gAR, [AR_o10,AR_o15,AR_o20,AR_o25,AR_o30,AR_p10,AR_p15,AR_p20,AR_p25,AR_p30], 'x3', 'y3', 1.6),
  lines(tB, [BL_o10,BL_o15,BL_o20,BL_o25,BL_o30,BL_p10,BL_p15,BL_p20,BL_p25,BL_p30], 'x4', 'y4'),
  lines(gBR, [BR_o10,BR_o15,BR_o20,BR_o25,BR_o30,BR_p10,BR_p15,BR_p20,BR_p25,BR_p30], 'x5', 'y5'),
  lines(gC, [CTL_o10,CTL_o15,CTL_o20,CTL_o25,CTL_o30,CTL_p10,CTL_p15,CTL_p20,CTL_p25,CTL_p30], 'x6', 'y6'),
  lines(gC, [CTR_o10,CTR_o15,CTR_o20,CTR_o25,CTR_o30,CTR_p10,CTR_p15,CTR_p20,CTR_p25,CTR_p30], 'x7', 'y7'),
  lines(gC, [CBL_o10,CBL_o15,CBL_o20,CBL_o25,CBL_o30,CBL_p10,CBL_p15,CBL_p20,CBL_p25,CBL_p30], 'x8', 'y8'),
  lines(gC, [CBR_o10,CBR_o15,CBR_o20,CBR_o25,CBR_o30,CBR_p10,CBR_p15,CBR_p20,CBR_p25,CBR_p30], 'x9', 'y9')
);
// discrete colourbar for panel B
const cscale = [];
cbColors.forEach((c, i) => { cscale.push([i / cbColors.length, c]); cscale.push([(i + 1) / cbColors.length, c]); });
traces.push({type:'scatter', mode:'markers', x:[1], y:[-1], xaxis:'x4', yaxis:'y4', showlegend:false, hoverinfo:'skip',
  marker:{size:1, color:[0], cmin:-0.5, cmax:9.5, colorscale:cscale, showscale:true,
    colorbar:{x:fx(93), xanchor:'left', y:fy(549), yanchor:'middle', len:178, lenmode:'pixels', thickness:6,
      thicknessmode:'pixels', outlinewidth:1, outlinecolor:'#000', tickmode:'array', tickvals:cbTicks, ticktext:cbLabels,
      ticks:'outside', ticklen:3, tickcolor:'#000', tickfont:{family:SERIF, size:12, color:'#111'}, xpad:0, ypad:0, borderwidth:0}}});

function xAx(p0, p1, range, vals, texts, anchor, fs) {
  return {domain:[fx(p0), fx(p1)], anchor, type:'log', range, tickmode:'array', tickvals:vals, ticktext:texts,
    showline:true, mirror:true, linecolor:'#222', linewidth:1, ticks:'outside', ticklen:4, tickcolor:'#222',
    showgrid:false, zeroline:false, tickfont:{family:SERIF, size:fs, color:'#111'}};
}
function yAx(p0, p1, range, vals, texts, anchor, fs) {
  return {domain:[fy(p1), fy(p0)], anchor, type:'linear', range, tickmode:'array', tickvals:vals, ticktext:texts,
    showline:true, mirror:true, linecolor:'#222', linewidth:1, ticks:'outside', ticklen:4, tickcolor:'#222',
    showgrid:false, zeroline:false, tickfont:{family:SERIF, size:fs, color:'#111'}};
}
const T_t = '<i>t</i>';
const T_sx = '|<i>δ</i><b><i>ℰ</i></b>| <i>t</i><sup>(<i>d</i>+2−<i>η</i>)/2<i>z</i></sup>';
const T_C = '<i>C</i><sub><i>ṅṅ</i></sub>(<i>t</i>)';
const T_Cs = '<i>C</i><sub><i>ṅṅ</i></sub>(<i>t</i>) <i>t</i><sup>(<i>d</i>−2+<i>η</i>)/<i>z</i></sup>';
const T_R = '<i>R</i><sub><i>ṅ</i><b>v</b></sub>(<i>t</i>)';
const T_Rs = '<i>R</i><sub><i>ṅ</i><b><i>v</i></b></sub>(<i>t</i>) <i>t</i><sup>(<i>d</i>−2+<i>η</i>)/2<i>z</i></sup>';

function lab(text, px, py, size, angle, family, extra) {
  return Object.assign({text, xref:'paper', yref:'paper', x:fx(px), y:fy(py), showarrow:false, textangle:angle||0,
    xanchor:'center', yanchor:'middle', font:{family:family||SERIF, size, color:'#111'}}, extra||{});
}

const layout = {
  width:W, height:H, margin:{l:0, r:0, t:0, b:0}, paper_bgcolor:'#fff', plot_bgcolor:'#fff', showlegend:false,
  xaxis:  xAx(77, 307, [-1.1, 2.003], ticksT, labelsT, 'y', 17),
  yaxis:  yAx(75, 314, [-0.8, 2.51], yAL, yALlab, 'x', 16),
  xaxis2: xAx(389, 618, [-2.32, 2.02], ticksS, labelsS, 'y2', 17),
  yaxis2: yAx(75, 310, [-0.8, 7.03], yAR, yARlab, 'x2', 16),
  xaxis3: xAx(530, 606, [-0.65, 0.69], ticksIn, labelsIn, 'y3', 11),
  yaxis3: yAx(88, 168, [-1.25, 5.0], yIn, yInlab, 'x3', 11),
  xaxis4: xAx(85, 307, [-1.1, 2.003], ticksT, labelsT, 'y4', 17),
  yaxis4: yAx(408, 645, [-0.0197, 0.099], yBL, yBLlab, 'x4', 16),
  xaxis5: xAx(419, 618, [-2.3, 2.003], ticksS, labelsS, 'y5', 16),
  yaxis5: yAx(408, 642, [-0.0278, 0.0975], yBR, yBRlab, 'x5', 16),
  xaxis6: xAx(738, 961, [-2.33, 2.003], ticksS, labelsS, 'y6', 16),
  yaxis6: yAx(86, 323, [-0.0098, 0.0956], yC, yClab, 'x6', 16),
  xaxis7: xAx(1053, 1275, [-2.33, 2.003], ticksS, labelsS, 'y7', 16),
  yaxis7: yAx(86, 323, [-0.0098, 0.0956], yC, yClab, 'x7', 16),
  xaxis8: xAx(738, 961, [-2.33, 2.003], ticksS, labelsS, 'y8', 16),
  yaxis8: yAx(399, 637, [-0.0102, 0.0952], yC, yClab, 'x8', 16),
  xaxis9: xAx(1053, 1275, [-2.33, 2.003], ticksS, labelsS, 'y9', 16),
  yaxis9: yAx(399, 636, [-0.0102, 0.0952], yC, yClab, 'x9', 16),
  shapes: [
    {type:'rect', xref:'paper', yref:'paper', x0:fx(5), x1:fx(633), y0:fy(372), y1:fy(62), line:{color:'#666', width:3}},
    {type:'rect', xref:'paper', yref:'paper', x0:fx(5), x1:fx(633), y0:fy(712), y1:fy(393), line:{color:'#666', width:3}},
    {type:'rect', xref:'paper', yref:'paper', x0:fx(645), x1:fx(1355), y0:fy(712), y1:fy(5), line:{color:'#666', width:3}},
    {type:'rect', xref:'paper', yref:'paper', x0:fx(660), x1:fx(972), y0:fy(64), y1:fy(54), fillcolor:'#b5002a', line:{width:0}},
    {type:'rect', xref:'paper', yref:'paper', x0:fx(972), x1:fx(1285), y0:fy(64), y1:fy(54), fillcolor:'#364fbe', line:{width:0}},
    {type:'rect', xref:'paper', yref:'paper', x0:fx(1291), x1:fx(1302), y0:fy(373), y1:fy(70), fillcolor:'#364fbe', line:{width:0}},
    {type:'rect', xref:'paper', yref:'paper', x0:fx(1291), x1:fx(1302), y0:fy(678), y1:fy(373), fillcolor:'#b5002a', line:{width:0}},
    {type:'rect', xref:'x8', yref:'y8 domain', x0:bandCBL[0], x1:bandCBL[1], y0:0, y1:1, fillcolor:'#9a9a9a', line:{width:0}, layer:'below'},
    {type:'rect', xref:'x9', yref:'y9 domain', x0:bandCBR[0], x1:bandCBR[1], y0:0, y1:1, fillcolor:'#9a9a9a', line:{width:0}, layer:'below'}
  ],
  annotations: [
    lab('Critical Spiking Network, No Input', 318, 25, 27, 0, SANS),
    lab('Input Criticality', 972, 37, 26, 0, SANS),
    lab('Network Criticality', 1328, 387, 27, -90, SANS),
    lab('<b>A</b>', 25, 81, 30, 0, SANS),
    lab('<b>B</b>', 29, 412, 30, 0, SANS),
    lab('<b>C</b>', 665, 24, 26, 0, SANS),
    lab('10<sup>−4</sup>', 62, 76, 14, -35),
    lab('10<sup>−4</sup>', 372, 76, 14, -35),
    lab('10<sup>−4</sup>', 519, 90, 9, 0),
    lab('<i>δ</i>ℰ', 142, 552, 17, -90),
    // axis titles
    lab(T_t, 193, 352, 23),
    lab(T_C, 38, 194, 22, -90),
    lab(T_sx, 513, 353, 19),
    lab(T_Cs, 345, 210, 20, -90),
    lab(T_t, 194, 684, 23),
    lab(T_R, 32, 527, 22, -90),
    lab(T_sx, 520, 682, 19),
    lab(T_Rs, 343, 525, 19, -90),
    lab(T_sx, 850, 365, 19),
    lab(T_Rs, 684, 210, 20, -90),
    lab(T_sx, 1163, 365, 19),
    lab(T_Rs, 998, 210, 20, -90),
    lab(T_sx, 850, 678, 19),
    lab(T_Rs, 684, 525, 20, -90),
    lab(T_sx, 1163, 676, 19),
    lab(T_Rs, 998, 522, 20, -90)
  ]
};
Plotly.newPlot('chart', traces, layout, {displayModeBar:false, staticPlot:true});
</script></body></html>
